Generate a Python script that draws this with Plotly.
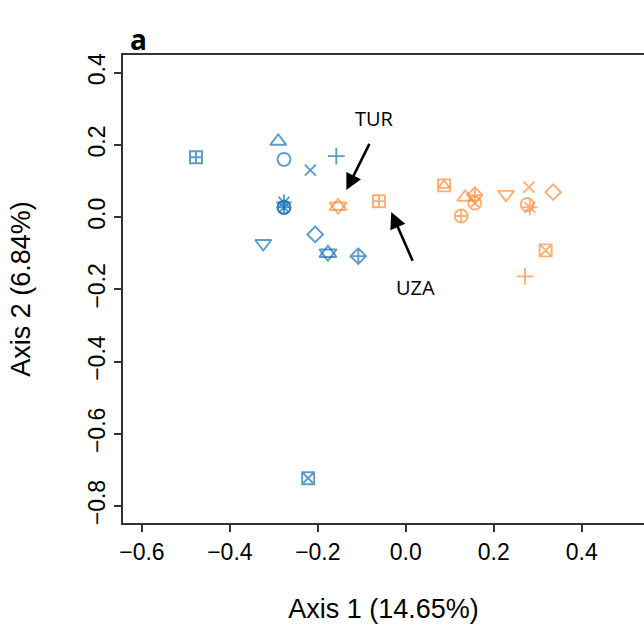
import plotly.graph_objects as go

# ---- data ----
blue_x = [-0.477, -0.290, -0.277, -0.217, -0.158, -0.277, -0.277, -0.277, -0.324, -0.206, -0.177, -0.108, -0.222]
blue_y = [0.166, 0.210, 0.160, 0.130, 0.169, 0.041, 0.027, 0.027, -0.073, -0.048, -0.100, -0.108, -0.723]
blue_pch = [12, 2, 1, 4, 3, 8, 10, 13, 6, 5, 11, 9, 7]

orange_x = [-0.154, -0.061, 0.087, 0.135, 0.157, 0.157, 0.126, 0.228, 0.280, 0.335, 0.276, 0.282, 0.318, 0.271]
orange_y = [0.030, 0.044, 0.088, 0.055, 0.061, 0.039, 0.003, 0.063, 0.083, 0.069, 0.035, 0.027, -0.092, -0.164]
orange_pch = [11, 12, 14, 2, 9, 13, 10, 6, 4, 5, 1, 8, 7, 3]

x_ticks = [-0.6, -0.4, -0.2, 0.0, 0.2, 0.4]
y_ticks = [-0.8, -0.6, -0.4, -0.2, 0.0, 0.2, 0.4]

x_title = "Axis 1 (14.65%)"
y_title = "Axis 2 (6.84%)"

# R pch -> plotly symbol layers (symbol, size)
PCH = {
    1: [("circle-open", 13)],
    2: [("triangle-up-open", 14)],
    3: [("cross-thin-open", 12)],
    4: [("x-thin-open", 11)],
    5: [("diamond-open", 12)],
    6: [("triangle-down-open", 14)],
    7: [("square-x-open", 12)],
    8: [("asterisk-open", 13)],
    9: [("diamond-cross-open", 12)],
    10: [("circle-cross-open", 13)],
    11: [("triangle-up-open", 15), ("triangle-down-open", 15)],
    12: [("square-cross-open", 12)],
    13: [("circle-x-open", 13)],
    14: [("square-open", 12), ("triangle-up-open", 10)],
}

BLUE = "#1a70b0"
ORANGE = "#ff8d3c"

fig = go.Figure()

def add_group(xs, ys, pchs, color):
    for layer in (0, 1):
        px, py, sym, sz = [], [], [], []
        for x, y, p in zip(xs, ys, pchs):
            layers = PCH[p]
            if layer < len(layers):
                s, size = layers[layer]
                px.append(x); py.append(y); sym.append(s); sz.append(size)
        if px:
            fig.add_trace(go.Scatter(
                x=px, y=py, mode="markers", showlegend=False, hoverinfo="skip",
                marker=dict(symbol=sym, size=sz, color=color, line=dict(color=color, width=1.9)),
            ))

add_group(blue_x, blue_y, blue_pch, BLUE)
add_group(orange_x, orange_y, orange_pch, ORANGE)

ann_font = dict(family="Open Sans", size=20, color="black")
# arrows
fig.add_annotation(x=-0.135, y=0.075, ax=-0.081, ay=0.207, xref="x", yref="y", axref="x", ayref="y",
                   text="", showarrow=True, arrowhead=2, arrowsize=1.25, arrowwidth=2.6, arrowcolor="black")
fig.add_annotation(x=-0.033, y=0.014, ax=0.017, ay=-0.125, xref="x", yref="y", axref="x", ayref="y",
                   text="", showarrow=True, arrowhead=2, arrowsize=1.25, arrowwidth=2.6, arrowcolor="black")
fig.add_annotation(x=-0.072, y=0.274, xref="x", yref="y", text="TUR", showarrow=False, font=ann_font)
fig.add_annotation(x=0.023, y=-0.194, xref="x", yref="y", text="UZA", showarrow=False, font=ann_font)

# panel letter
fig.add_annotation(x=0.0096, y=0.989, xref="paper", yref="paper", xanchor="left", yanchor="bottom",
                   text="<b>a</b>", showarrow=False, font=dict(family="Open Sans", size=28, color="black"))

tick_font = dict(family="Liberation Sans", size=23, color="black")
title_font = dict(family="Liberation Sans", size=27, color="black")

fig.update_layout(
    width=644, height=626,
    margin=dict(l=123, r=0, t=55, b=103),
    paper_bgcolor="white", plot_bgcolor="white",
    xaxis=dict(
        range=[-0.643, 0.5416], tickvals=x_ticks, tickformat=".1f",
        showgrid=False, zeroline=False, showline=True, mirror=True, linecolor="#333333", linewidth=2,
        ticks="outside", ticklen=7, tickwidth=1.5, tickcolor="#333333",
        tickfont=tick_font, title=dict(text=x_title, font=title_font, standoff=36),
    ),
    yaxis=dict(
        range=[-0.847, 0.449], tickvals=y_ticks, tickformat=".1f", tickangle=-90,
        showgrid=False, zeroline=False, showline=True, mirror=False, linecolor="#333333", linewidth=2,
        ticks="outside", ticklen=7, tickwidth=1.5, tickcolor="#333333",
        tickfont=tick_font, title=dict(text=y_title, font=title_font, standoff=45),
    ),
)

fig.write_html("out.html", config={"displayModeBar": False},
               post_script="document.body.style.margin='0';document.body.style.overflow='hidden';")
